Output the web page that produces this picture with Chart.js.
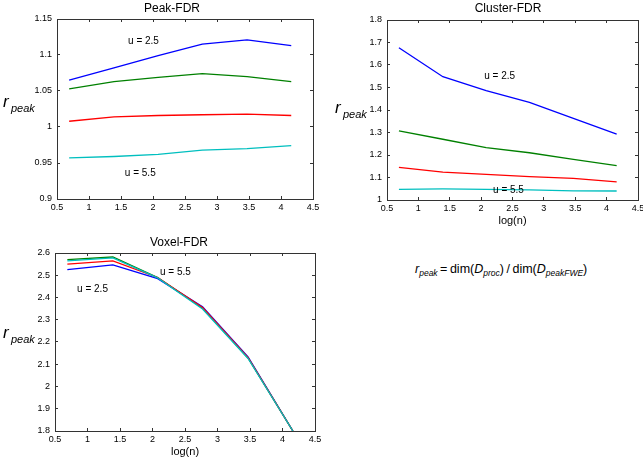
<!DOCTYPE html>
<html>
<head>
<meta charset="utf-8">
<script src="https://cdn.jsdelivr.net/npm/chart.js@4"></script>
<style>
  body { margin: 0; background: #fff; width: 643px; height: 460px; position: relative; overflow: hidden;
         font-family: "Liberation Sans", Arial, sans-serif; }
  .panel { position: absolute; }
  .formula { position: absolute; left: 415px; top: 262px; font-size: 12.5px; color: #000; white-space: nowrap; }
  .formula sub { font-size: 8.5px; font-style: italic; vertical-align: -3px; }
</style>
</head>
<body>
<div class="panel" style="left:0;top:0;width:320px;height:220px"><canvas id="peakChart" width="320" height="220"></canvas></div>
<div class="panel" style="left:320px;top:0;width:323px;height:235px"><canvas id="clusterChart" width="323" height="235"></canvas></div>
<div class="panel" style="left:0;top:220px;width:330px;height:240px"><canvas id="voxelChart" width="330" height="240"></canvas></div>
<div class="formula"><i>r</i><sub>peak</sub>&#8201;=&#8201;dim(<i>D</i><sub>proc</sub>)&#8201;/&#8201;dim(<i>D</i><sub>peakFWE</sub>)</div>

<script>
// x values: log of the number of subjects (2, 4, 8, 16, 32, 64)
const logN = [0.69, 1.39, 2.08, 2.77, 3.47, 4.16];
const thresholds = ["u = 2.5", "u = 3.5", "u = 4.5", "u = 5.5"];
const lineColors = ["#0000ff", "#008000", "#ff0000", "#00bfbf"];

const xTicks = [0.5, 1, 1.5, 2, 2.5, 3, 3.5, 4, 4.5];

// Peak-FDR
const peakU25 = [1.065, 1.082, 1.099, 1.115, 1.121, 1.113];
const peakU35 = [1.053, 1.063, 1.069, 1.074, 1.070, 1.063];
const peakU45 = [1.008, 1.014, 1.016, 1.017, 1.018, 1.016];
const peakU55 = [0.957, 0.959, 0.962, 0.968, 0.970, 0.974];
const peakTicks = [0.9, 0.95, 1, 1.05, 1.1, 1.15];

// Cluster-FDR
const clusterU25 = [1.677, 1.548, 1.486, 1.434, 1.363, 1.293];
const clusterU35 = [1.307, 1.270, 1.233, 1.210, 1.181, 1.153];
const clusterU45 = [1.145, 1.124, 1.114, 1.104, 1.096, 1.081];
const clusterU55 = [1.047, 1.049, 1.047, 1.045, 1.041, 1.040];
const clusterTicks = [1, 1.1, 1.2, 1.3, 1.4, 1.5, 1.6, 1.7, 1.8];

// Voxel-FDR
const voxelU25 = [2.525, 2.547, 2.485, 2.358, 2.133, 1.80];
const voxelU35 = [2.570, 2.582, 2.490, 2.352, 2.128, 1.80];
const voxelU45 = [2.550, 2.565, 2.490, 2.355, 2.130, 1.80];
const voxelU55 = [2.565, 2.578, 2.488, 2.348, 2.126, 1.80];
const voxelTicks = [1.8, 1.9, 2, 2.1, 2.2, 2.3, 2.4, 2.5, 2.6];

const FONT = '"Liberation Sans", Arial, sans-serif';
const AXIS = "#333333";

// titles, axis labels and the threshold notes
const textPlugin = {
  id: "mtext",
  afterDraw(chart, args, opts) {
    const { ctx, chartArea: a, scales } = chart;
    ctx.save();
    ctx.fillStyle = "#000";
    ctx.textBaseline = "alphabetic";
    ctx.font = "12px " + FONT;
    ctx.textAlign = "center";
    ctx.fillText(opts.title, opts.titleX, opts.titleY);
    if (opts.xLabel) {
      ctx.font = "11px " + FONT;
      ctx.fillText(opts.xLabel, (a.left + a.right) / 2, a.bottom + 24);
    }
    ctx.textAlign = "left";
    ctx.font = "italic 17px " + FONT;
    ctx.fillText("r", opts.rX, opts.rY);
    ctx.font = "italic 11px " + FONT;
    ctx.fillText("peak", opts.rX + 8, opts.rY + 5);
    ctx.font = "10px " + FONT;
    for (const n of opts.notes) {
      ctx.fillText(n.text, scales.x.getPixelForValue(n.x), scales.y.getPixelForValue(n.y));
    }
    ctx.restore();
  },
};

// one side of the matlab box: border line + inward ticks (negative tick length)
function sideAxis(position, min, max, ticks, size, showLabels, padding) {
  const horizontal = position === "bottom" || position === "top";
  return {
    type: "linear",
    position: position,
    min: min,
    max: max,
    afterBuildTicks: (s) => { s.ticks = ticks.map((v) => ({ value: v })); },
    afterFit: (s) => {
      if (horizontal) { s.height = size; s.paddingRight = 0; s.paddingLeft = 0; }
      else { s.width = size; s.paddingTop = 0; s.paddingBottom = 0; }
    },
    grid: { display: true, drawOnChartArea: false, drawTicks: true, tickLength: -3, tickColor: AXIS, tickWidth: 1 },
    border: { display: true, color: AXIS, width: 1 },
    ticks: {
      display: showLabels,
      callback: (v) => String(+v.toFixed(3)),
      font: { size: 9, family: FONT },
      color: "#000",
      padding: padding,
      maxRotation: 0,
      autoSkip: false,
    },
  };
}

function makeChart(id, series, yTicks, box, plot) {
  const yMin = yTicks[0], yMax = yTicks[yTicks.length - 1];
  return new Chart(document.getElementById(id), {
    type: "line",
    data: {
      datasets: series.map((vals, i) => ({
        label: thresholds[i],
        data: logN.map((x, k) => ({ x: x, y: vals[k] })),
        borderColor: lineColors[i],
        borderWidth: 1.3,
        pointRadius: 0,
        tension: 0,
        fill: false,
        order: 3 - i,
      })),
    },
    options: {
      responsive: false,
      animation: false,
      layout: { padding: { top: box.top, right: box.right, left: 0, bottom: 0 } },
      plugins: { legend: { display: false }, tooltip: { enabled: false }, mtext: plot },
      scales: {
        x: sideAxis("bottom", 0.5, 4.5, xTicks, box.xHeight, true, 6),
        x2: sideAxis("top", 0.5, 4.5, xTicks, 0, false, 0),
        y: sideAxis("left", yMin, yMax, yTicks, box.yWidth, true, 8),
        y2: sideAxis("right", yMin, yMax, yTicks, 0, false, 0),
      },
    },
    plugins: [textPlugin],
  });
}

makeChart("peakChart", [peakU25, peakU35, peakU45, peakU55], peakTicks,
  { top: 19, right: 7, yWidth: 57, xHeight: 21 },
  { title: "Peak-FDR", titleX: 172, titleY: 12, rX: 3, rY: 107,
    notes: [{ text: "u = 2.5", x: 1.61, y: 1.115 }, { text: "u = 5.5", x: 1.56, y: 0.932 }] });

makeChart("clusterChart", [clusterU25, clusterU35, clusterU45, clusterU55], clusterTicks,
  { top: 20, right: 5, yWidth: 67, xHeight: 35 },
  { title: "Cluster-FDR", titleX: 188, titleY: 12, rX: 15, rY: 113, xLabel: "log(n)",
    notes: [{ text: "u = 2.5", x: 2.05, y: 1.538 }, { text: "u = 5.5", x: 2.19, y: 1.031 }] });

makeChart("voxelChart", [voxelU25, voxelU35, voxelU45, voxelU55], voxelTicks,
  { top: 33, right: 15, yWidth: 55, xHeight: 29 },
  { title: "Voxel-FDR", titleX: 179, titleY: 26, rX: 3, rY: 118, xLabel: "log(n)",
    notes: [{ text: "u = 5.5", x: 2.115, y: 2.499 }, { text: "u = 2.5", x: 0.84, y: 2.425 }] });
</script>
</body>
</html>
